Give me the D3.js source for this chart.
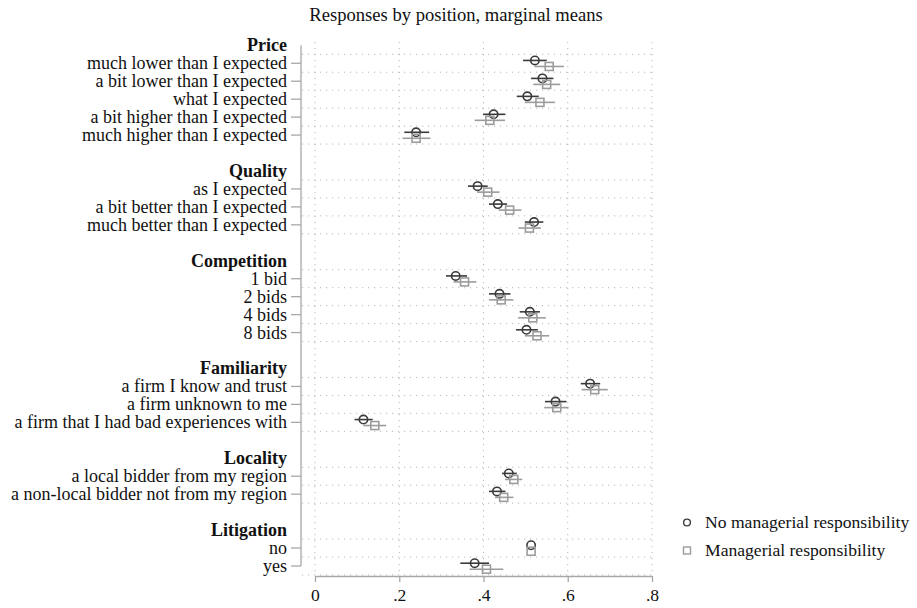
<!DOCTYPE html>
<html>
<head>
<meta charset="utf-8">
<script src="https://cdn.jsdelivr.net/npm/d3@7"></script>
<style>
  html, body { margin: 0; padding: 0; background: #fff; }
  svg { display: block; font-family: "Liberation Serif", "Times New Roman", serif; }
</style>
</head>
<body>
<svg id="chart" width="917" height="608"></svg>
<script>
// ---- data ----
const groupNames = ["Price", "Quality", "Competition", "Familiarity", "Locality", "Litigation"];
const groupItems = [
  ["much lower than I expected", "a bit lower than I expected", "what I expected", "a bit higher than I expected", "much higher than I expected"],
  ["as I expected", "a bit better than I expected", "much better than I expected"],
  ["1 bid", "2 bids", "4 bids", "8 bids"],
  ["a firm I know and trust", "a firm unknown to me", "a firm that I had bad experiences with"],
  ["a local bidder from my region", "a non-local bidder not from my region"],
  ["no", "yes"]
];
const seriesNames = ["No managerial responsibility", "Managerial responsibility"];
// No managerial responsibility (circle)
const noMgrMean = [0.522, 0.540, 0.504, 0.424, 0.240, 0.386, 0.434, 0.520, 0.334, 0.438, 0.510, 0.502, 0.653, 0.571, 0.115, 0.460, 0.432, 0.513, 0.379];
const noMgrLow  = [0.494, 0.513, 0.479, 0.399, 0.212, 0.363, 0.413, 0.498, 0.311, 0.413, 0.486, 0.477, 0.631, 0.546, 0.094, 0.444, 0.413, 0.513, 0.345];
const noMgrHigh = [0.550, 0.566, 0.531, 0.452, 0.271, 0.410, 0.456, 0.542, 0.361, 0.464, 0.534, 0.529, 0.677, 0.597, 0.137, 0.479, 0.452, 0.513, 0.413];
// Managerial responsibility (square)
const mgrMean = [0.556, 0.550, 0.534, 0.415, 0.240, 0.410, 0.462, 0.509, 0.355, 0.442, 0.517, 0.527, 0.664, 0.574, 0.142, 0.472, 0.448, 0.513, 0.407];
const mgrLow  = [0.521, 0.518, 0.498, 0.379, 0.208, 0.385, 0.436, 0.483, 0.329, 0.413, 0.482, 0.498, 0.633, 0.544, 0.115, 0.451, 0.427, 0.513, 0.367];
const mgrHigh = [0.591, 0.582, 0.570, 0.451, 0.274, 0.438, 0.490, 0.536, 0.383, 0.471, 0.548, 0.556, 0.695, 0.602, 0.169, 0.492, 0.471, 0.513, 0.447];
const xTicks = [0, 0.2, 0.4, 0.6, 0.8];
const xTickLabels = ["0", ".2", ".4", ".6", ".8"];
const titleText = "Responses by position, marginal means";

// ---- layout of rows ----
const rows = [];
const items = [];
const gridRows = [];
let r = 0, k = 0;
groupNames.forEach((g, gi) => {
  rows.push({ label: g, header: true, row: r });
  gridRows.push(r + 0.5);
  r++;
  groupItems[gi].forEach(it => {
    rows.push({ label: it, header: false, row: r });
    items.push({ label: it, row: r, idx: k });
    gridRows.push(r + 0.5);
    r++; k++;
  });
  r++;
});
const lastRow = r - 2;

const svg = d3.select("#chart");
const x = d3.scaleLinear().domain([0, 0.8]).range([315, 652]);
const y = d3.scaleLinear().domain([0, lastRow]).range([45.3, 566]);
const plotLeft = 302, plotRight = 656, plotTop = 42, plotBottom = 576;

const darkCol = "#3a3a3a", grayCol = "#9c9c9c", gridCol = "#b8b8b8", axisCol = "#a8a8a8";
const fontFam = "Liberation Serif, Times New Roman, serif";

// title
svg.append("text").attr("x", 456).attr("y", 21).attr("text-anchor", "middle")
  .attr("font-size", 18.6).attr("fill", "#111").text(titleText);

// gridlines
const g = svg.append("g");
g.selectAll("line.vg").data(xTicks).join("line")
  .attr("x1", d => x(d)).attr("x2", d => x(d))
  .attr("y1", plotTop).attr("y2", plotBottom)
  .attr("stroke", gridCol).attr("stroke-width", 1).attr("stroke-dasharray", "1.2,4.8");
g.selectAll("line.hg").data(gridRows.filter(v => v < lastRow + 1)).join("line")
  .attr("x1", plotLeft).attr("x2", plotRight)
  .attr("y1", d => y(d)).attr("y2", d => y(d))
  .attr("stroke", gridCol).attr("stroke-width", 1).attr("stroke-dasharray", "1.2,4.8");

// x axis
const xAxis = d3.axisBottom(x).tickValues(xTicks).tickFormat((d, i) => xTickLabels[i]).tickSize(6).tickSizeOuter(0);
const xa = svg.append("g").attr("transform", `translate(0,${plotBottom})`).call(xAxis);
xa.select(".domain").attr("stroke", axisCol).attr("stroke-width", 1.3);
xa.selectAll(".tick line").attr("stroke", axisCol).attr("stroke-width", 1.3);
xa.selectAll(".tick text").attr("font-size", 17.6).attr("fill", "#111").attr("dy", "0.9em")
  .attr("font-family", fontFam);

// y axis line + ticks
svg.append("line").attr("x1", plotLeft - 1).attr("x2", plotLeft - 1)
  .attr("y1", y(0)).attr("y2", y(lastRow)).attr("stroke", axisCol).attr("stroke-width", 1.3);
svg.selectAll("line.yt").data(items).join("line")
  .attr("x1", plotLeft - 11).attr("x2", plotLeft - 1)
  .attr("y1", d => y(d.row)).attr("y2", d => y(d.row))
  .attr("stroke", axisCol).attr("stroke-width", 1.3);
svg.selectAll("text.yl").data(rows).join("text")
  .attr("x", 287).attr("y", d => y(d.row)).attr("dy", "0.33em")
  .attr("text-anchor", "end").attr("font-size", 18)
  .attr("font-weight", d => d.header ? "bold" : "normal")
  .attr("fill", "#111").text(d => d.label);

// series
const offC = -2.8, offS = 3.2;
const ser = svg.append("g");
ser.selectAll("line.ci0").data(items).join("line")
  .attr("x1", d => x(noMgrLow[d.idx])).attr("x2", d => x(noMgrHigh[d.idx]))
  .attr("y1", d => y(d.row) + offC).attr("y2", d => y(d.row) + offC)
  .attr("stroke", darkCol).attr("stroke-width", 1.6);
ser.selectAll("line.ci1").data(items).join("line")
  .attr("x1", d => x(mgrLow[d.idx])).attr("x2", d => x(mgrHigh[d.idx]))
  .attr("y1", d => y(d.row) + offS).attr("y2", d => y(d.row) + offS)
  .attr("stroke", grayCol).attr("stroke-width", 1.6);
ser.selectAll("circle.m0").data(items).join("circle")
  .attr("cx", d => x(noMgrMean[d.idx])).attr("cy", d => y(d.row) + offC).attr("r", 4.2)
  .attr("fill", "none").attr("stroke", darkCol).attr("stroke-width", 1.6);
ser.selectAll("rect.m1").data(items).join("rect")
  .attr("x", d => x(mgrMean[d.idx]) - 4).attr("y", d => y(d.row) + offS - 4)
  .attr("width", 8).attr("height", 8)
  .attr("fill", "none").attr("stroke", grayCol).attr("stroke-width", 1.6);

// legend
const lg = svg.append("g");
lg.append("circle").attr("cx", 687).attr("cy", 522.5).attr("r", 3.4)
  .attr("fill", "none").attr("stroke", darkCol).attr("stroke-width", 1.4);
lg.append("rect").attr("x", 683.5).attr("y", 547).attr("width", 7).attr("height", 7)
  .attr("fill", "none").attr("stroke", grayCol).attr("stroke-width", 1.4);
lg.selectAll("text").data(seriesNames).join("text")
  .attr("x", 705).attr("y", (d, i) => 522.5 + i * 28).attr("dy", "0.33em")
  .attr("font-size", 17.6).attr("fill", "#111").text(d => d);
</script>
</body>
</html>
